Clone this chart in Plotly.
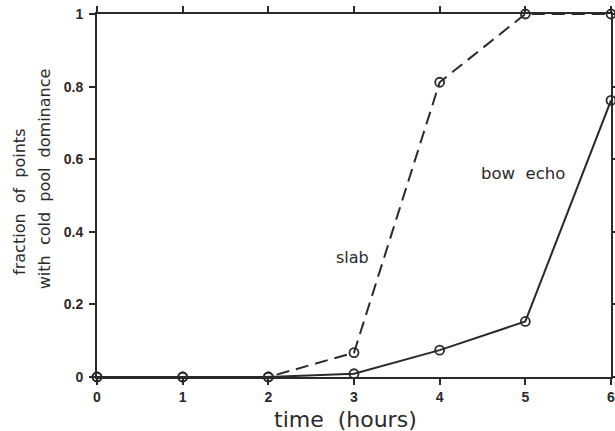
import plotly.graph_objects as go

hours = [0, 1, 2, 3, 4, 5, 6]
slab = [0.0, 0.0, 0.0, 0.067, 0.812, 1.0, 1.0]
bow_echo = [0.0, 0.0, 0.0, 0.009, 0.074, 0.153, 0.762]
x_ticks = [0, 1, 2, 3, 4, 5, 6]
y_ticks = [0, 0.2, 0.4, 0.6, 0.8, 1]
y_tick_labels = ["0", "0.2", "0.4", "0.6", "0.8", "1"]

ink = "#2a2a2a"
fig = go.Figure()
fig.add_trace(go.Scatter(
    x=hours, y=bow_echo, mode="lines+markers", cliponaxis=False,
    line=dict(color=ink, width=2),
    marker=dict(symbol="circle-open", size=9, color=ink, line=dict(width=1.8)),
    showlegend=False))
fig.add_trace(go.Scatter(
    x=hours, y=slab, mode="lines+markers", cliponaxis=False,
    line=dict(color=ink, width=2, dash="13px,7px"),
    marker=dict(symbol="circle-open", size=9, color=ink, line=dict(width=1.8)),
    showlegend=False))

tickfont = dict(family="Liberation Sans", size=14, color=ink, weight="bold")
fig.update_xaxes(range=[0, 6], tickvals=x_ticks, ticktext=[str(t) for t in x_ticks],
                 showgrid=False, zeroline=False, showline=True, linecolor=ink, linewidth=2,
                 mirror="ticks", ticks="outside", ticklen=6, tickwidth=1.5, tickcolor=ink,
                 tickfont=tickfont, automargin=False, ticklabeloverflow="allow")
fig.update_yaxes(range=[0, 1], tickvals=y_ticks, ticktext=y_tick_labels,
                 showgrid=False, zeroline=False, showline=True, linecolor=ink, linewidth=2,
                 mirror="ticks", ticks="outside", ticklen=6, tickwidth=1.5, tickcolor=ink,
                 tickfont=tickfont, automargin=False, ticklabeloverflow="allow",
                 ticklabelstandoff=3)

fig.add_annotation(text="time  (hours)", xref="paper", yref="paper",
                   x=0.484, y=-0.118, xanchor="center", yanchor="middle",
                   showarrow=False, font=dict(family="DejaVu Sans", size=22, color=ink))
fig.add_annotation(text="fraction  of  points", xref="paper", yref="paper",
                   x=-0.152, y=0.482, xanchor="center", yanchor="middle", textangle=-90,
                   showarrow=False, font=dict(family="DejaVu Sans", size=16, color=ink))
fig.add_annotation(text="with  cold  pool  dominance", xref="paper", yref="paper",
                   x=-0.103, y=0.545, xanchor="center", yanchor="middle", textangle=-90,
                   showarrow=False, font=dict(family="DejaVu Sans", size=16, color=ink))
fig.add_annotation(text="slab", x=2.98, y=0.33, showarrow=False,
                   font=dict(family="DejaVu Sans", size=16, color=ink))
fig.add_annotation(text="bow  echo", x=4.97, y=0.56, showarrow=False,
                   font=dict(family="DejaVu Sans", size=16.5, color=ink))

fig.update_layout(width=615, height=431, margin=dict(l=97, r=4, t=14, b=54),
                  plot_bgcolor="white", paper_bgcolor="white")
fig.write_html("out.html", config={"displayModeBar": False},
               post_script="document.body.style.margin='0';document.body.style.overflow='hidden';")
